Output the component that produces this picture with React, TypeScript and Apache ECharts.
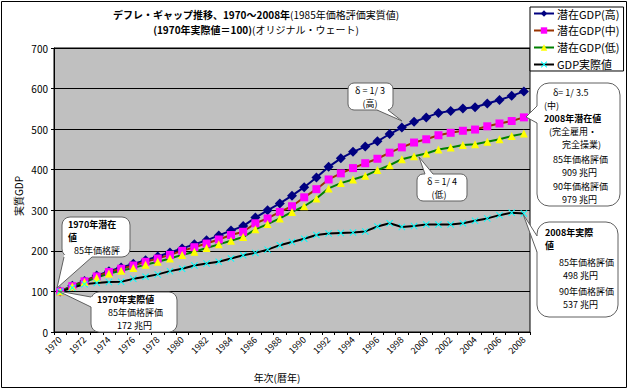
import React, { useEffect, useRef } from "react";
import * as echarts from "echarts";

const years = [
  "1970", "1971", "1972", "1973", "1974", "1975", "1976", "1977", "1978", "1979",
  "1980", "1981", "1982", "1983", "1984", "1985", "1986", "1987", "1988", "1989",
  "1990", "1991", "1992", "1993", "1994", "1995", "1996", "1997", "1998", "1999",
  "2000", "2001", "2002", "2003", "2004", "2005", "2006", "2007", "2008",
];

const potentialHigh = [
  100, 114, 126, 139, 150, 159, 168, 177, 186, 196,
  206, 216, 226, 238, 250, 261, 282, 300, 317, 336,
  357, 381, 407, 428, 444, 457, 470, 488, 504, 518,
  529, 540, 545, 551, 554, 563, 572, 582, 593,
];

const potentialMid = [
  100, 113, 125, 137, 148, 156, 164, 173, 181, 190,
  200, 209, 218, 228, 239, 247, 268, 280, 296, 310,
  332, 352, 376, 391, 404, 416, 427, 442, 455, 467,
  475, 485, 491, 496, 499, 507, 514, 520, 529,
];

const potentialLow = [
  100, 112, 123, 134, 144, 151, 158, 166, 173, 181,
  190, 198, 207, 216, 225, 234, 253, 266, 280, 296,
  310, 329, 354, 367, 376, 385, 399, 411, 426, 433,
  440, 450, 455, 461, 463, 469, 475, 483, 489,
];

const actualGdp = [
  100, 109, 118, 121, 123, 124, 131, 136, 142, 150,
  156, 164, 169, 173, 181, 189, 195, 203, 214, 222,
  230, 239, 243, 244, 245, 248, 260, 268, 259, 261,
  265, 265, 265, 268, 274, 280, 288, 294, 292,
];

const seriesNames = ["潜在GDP(高)", "潜在GDP(中)", "潜在GDP(低)", "GDP実際値"];
const yMin = 0;
const yMax = 700;
const yStep = 100;

const FONT = '"Noto Sans CJK JP", "Noto Sans", sans-serif';
const XSYM =
  "path://M0,1L1,0L5,4L9,0L10,1L6,5L10,9L9,10L5,6L1,10L0,9L4,5Z";

type Pt = [number, number];
type TL = { t: string; x: number; y: number; b?: boolean; a?: string; fs?: number };

function callout(
  bx: number,
  by: number,
  bw: number,
  bh: number,
  r: number,
  side: "left" | "right" | "top" | "bottom",
  tail: [Pt, Pt, Pt],
  lines: TL[]
) {
  const [a, tip, c] = tail;
  const d = 2;
  const off =
    side === "left" ? [d, 0] : side === "right" ? [-d, 0] : side === "top" ? [0, d] : [0, -d];
  const ai = [a[0] + off[0], a[1] + off[1]];
  const ci = [c[0] + off[0], c[1] + off[1]];
  const stroke = "#606060";
  return [
    {
      type: "rect",
      z: 50,
      shape: { x: bx, y: by, width: bw, height: bh, r },
      style: { fill: "#ffffff", stroke, lineWidth: 1 },
    },
    {
      type: "polygon",
      z: 51,
      shape: { points: [ai, a, tip, c, ci] },
      style: { fill: "#ffffff" },
    },
    {
      type: "polyline",
      z: 52,
      shape: { points: [a, tip, c] },
      style: { stroke, lineWidth: 1, fill: "none" },
    },
    ...lines.map((l) => ({
      type: "text",
      z: 53,
      x: l.x,
      y: l.y,
      style: {
        text: l.t,
        fill: "#000",
        font: `${l.b ? "bold " : ""}${l.fs || 9}px ${FONT}`,
        textAlign: l.a || "left",
        align: l.a || "left",
        textVerticalAlign: "middle",
        verticalAlign: "middle",
      },
    })),
  ];
}

export default function App() {
  const ref = useRef<HTMLDivElement>(null);

  useEffect(() => {
    document.body.style.margin = "0";
    const chart = echarts.init(ref.current!, null, { renderer: "svg" });

    const titleRich = {
      b: { fontSize: 10, fontWeight: "bold", fontFamily: FONT, fill: "#000", color: "#000" },
      n: { fontSize: 10, fontFamily: FONT, fill: "#000", color: "#000" },
    };

    const graphics: any[] = [
      {
        type: "rect",
        z: 0,
        shape: { x: 1.5, y: 1.5, width: 625, height: 386 },
        style: { fill: "none", stroke: "#000", lineWidth: 1 },
      },
      {
        type: "text",
        x: 256,
        y: 14,
        z: 60,
        style: {
          text: "{b|デフレ・ギャップ推移、1970～2008年}{n|(1985年価格評価実質値)}",
          rich: titleRich,
          textAlign: "center",
          align: "center",
          textVerticalAlign: "middle",
          verticalAlign: "middle",
        },
      },
      {
        type: "text",
        x: 256,
        y: 29,
        z: 60,
        style: {
          text: "{b|(1970年実際値＝100)}{n|(オリジナル・ウェート)}",
          rich: titleRich,
          textAlign: "center",
          align: "center",
          textVerticalAlign: "middle",
          verticalAlign: "middle",
        },
      },
      {
        type: "text",
        x: 18,
        y: 196,
        rotation: Math.PI / 2,
        z: 60,
        style: {
          text: "実質GDP",
          fill: "#000",
          font: `10px ${FONT}`,
          textAlign: "center",
          align: "center",
          textVerticalAlign: "middle",
          verticalAlign: "middle",
        },
      },
      {
        type: "text",
        x: 277,
        y: 377,
        z: 60,
        style: {
          text: "年次(暦年)",
          fill: "#000",
          font: `10px ${FONT}`,
          textAlign: "center",
          align: "center",
          textVerticalAlign: "middle",
          verticalAlign: "middle",
        },
      },
      ...callout(348, 83, 45, 27, 6, "bottom", [[377, 110], [402, 121], [388, 110]], [
        { t: "δ = 1/ 3", x: 370, y: 90, a: "center" },
        { t: "(高)", x: 370, y: 103, a: "center" },
      ]),
      ...callout(417, 174, 50, 27, 6, "top", [[425, 174], [419, 157], [433, 174]], [
        { t: "δ = 1/ 4", x: 442, y: 181, a: "center" },
        { t: "(低)", x: 439, y: 194, a: "center" },
      ]),
      ...callout(537, 83, 83, 123, 12, "left", [[537, 106], [526, 117], [537, 123]], [
        { t: "δ= 1/ 3.5", x: 553, y: 92 },
        { t: "(中)", x: 544, y: 105 },
        { t: "2008年潜在値", x: 544, y: 118, b: true },
        { t: "(完全雇用・", x: 549, y: 131 },
        { t: "完全操業)", x: 562, y: 144 },
        { t: "85年価格評価", x: 553, y: 159 },
        { t: "909 兆円", x: 562, y: 172 },
        { t: "90年価格評価", x: 553, y: 186 },
        { t: "979 兆円", x: 562, y: 199 },
      ]),
      ...callout(537, 222, 81, 95, 12, "left", [[537, 236], [523, 214], [537, 252]], [
        { t: "2008年実際", x: 545, y: 232, b: true },
        { t: "値", x: 545, y: 245, b: true },
        { t: "85年価格評価", x: 559, y: 262 },
        { t: "498 兆円", x: 563, y: 275 },
        { t: "90年価格評価", x: 559, y: 291 },
        { t: "537 兆円", x: 563, y: 304 },
      ]),
      ...callout(62, 217, 68, 40, 8, "bottom", [[64, 257], [57, 288], [92, 257]], [
        { t: "1970年潜在", x: 68, y: 224, b: true },
        { t: "値", x: 68, y: 237, b: true },
        { t: "85年価格評", x: 74, y: 250 },
      ]),
      ...callout(91, 292, 86, 40, 8, "left", [[91, 297], [58, 291], [91, 307]], [
        { t: "1970年実際値", x: 97, y: 299, b: true },
        { t: "85年価格評価", x: 108, y: 312 },
        { t: "172 兆円", x: 117, y: 325 },
      ]),
    ];

    const option: any = {
      animation: false,
      textStyle: { fontFamily: FONT },
      grid: {
        left: 54,
        right: 99,
        top: 48,
        bottom: 59,
        show: true,
        backgroundColor: "#C0C0C0",
        borderColor: "#000",
        borderWidth: 1,
      },
      legend: {
        orient: "vertical",
        left: 530,
        top: 7,
        padding: [1, 4, 1, 3],
        itemGap: 6,
        itemWidth: 20,
        itemHeight: 8,
        backgroundColor: "#fff",
        borderColor: "#000",
        borderWidth: 1,
        borderRadius: 0,
        textStyle: { fontSize: 11, color: "#000", fontFamily: FONT, padding: [0, 0, 0, -2] },
        data: seriesNames,
      },
      xAxis: {
        type: "category",
        data: years,
        boundaryGap: true,
        axisLine: { lineStyle: { color: "#000", width: 1 } },
        axisTick: { show: true, interval: 0, length: 3, lineStyle: { color: "#000" } },
        axisLabel: {
          interval: 1,
          rotate: 45,
          fontSize: 9,
          color: "#000",
          margin: 6,
          fontFamily: FONT,
        },
        splitLine: { show: false },
      },
      yAxis: {
        type: "value",
        min: yMin,
        max: yMax,
        interval: yStep,
        axisLine: { show: true, lineStyle: { color: "#000" } },
        axisTick: { show: true, length: 3, lineStyle: { color: "#000" } },
        axisLabel: { fontSize: 10, color: "#000", margin: 6, fontFamily: FONT },
        splitLine: { show: true, lineStyle: { color: "#000", width: 1 } },
      },
      series: [
        {
          name: seriesNames[0],
          type: "line",
          data: potentialHigh,
          symbol: "diamond",
          symbolSize: 10,
          showAllSymbol: true,
          color: "#000080",
          itemStyle: { color: "#000080" },
          lineStyle: { color: "#000080", width: 2 },
        },
        {
          name: seriesNames[1],
          type: "line",
          data: potentialMid,
          symbol: "rect",
          symbolSize: 8,
          showAllSymbol: true,
          color: "#FF00FF",
          itemStyle: { color: "#FF00FF" },
          lineStyle: { color: "#993300", width: 2 },
        },
        {
          name: seriesNames[2],
          type: "line",
          data: potentialLow,
          symbol: "triangle",
          symbolSize: 8,
          showAllSymbol: true,
          color: "#FFFF00",
          itemStyle: { color: "#FFFF00" },
          lineStyle: { color: "#008000", width: 2 },
        },
        {
          name: seriesNames[3],
          type: "line",
          data: actualGdp,
          symbol: XSYM,
          symbolSize: 7,
          showAllSymbol: true,
          color: "#00FFFF",
          itemStyle: { color: "#00FFFF" },
          lineStyle: { color: "#000000", width: 2 },
        },
      ],
      graphic: graphics,
    };

    chart.setOption(option);
    return () => chart.dispose();
  }, []);

  return <div ref={ref} style={{ width: 629, height: 391 }} />;
}
